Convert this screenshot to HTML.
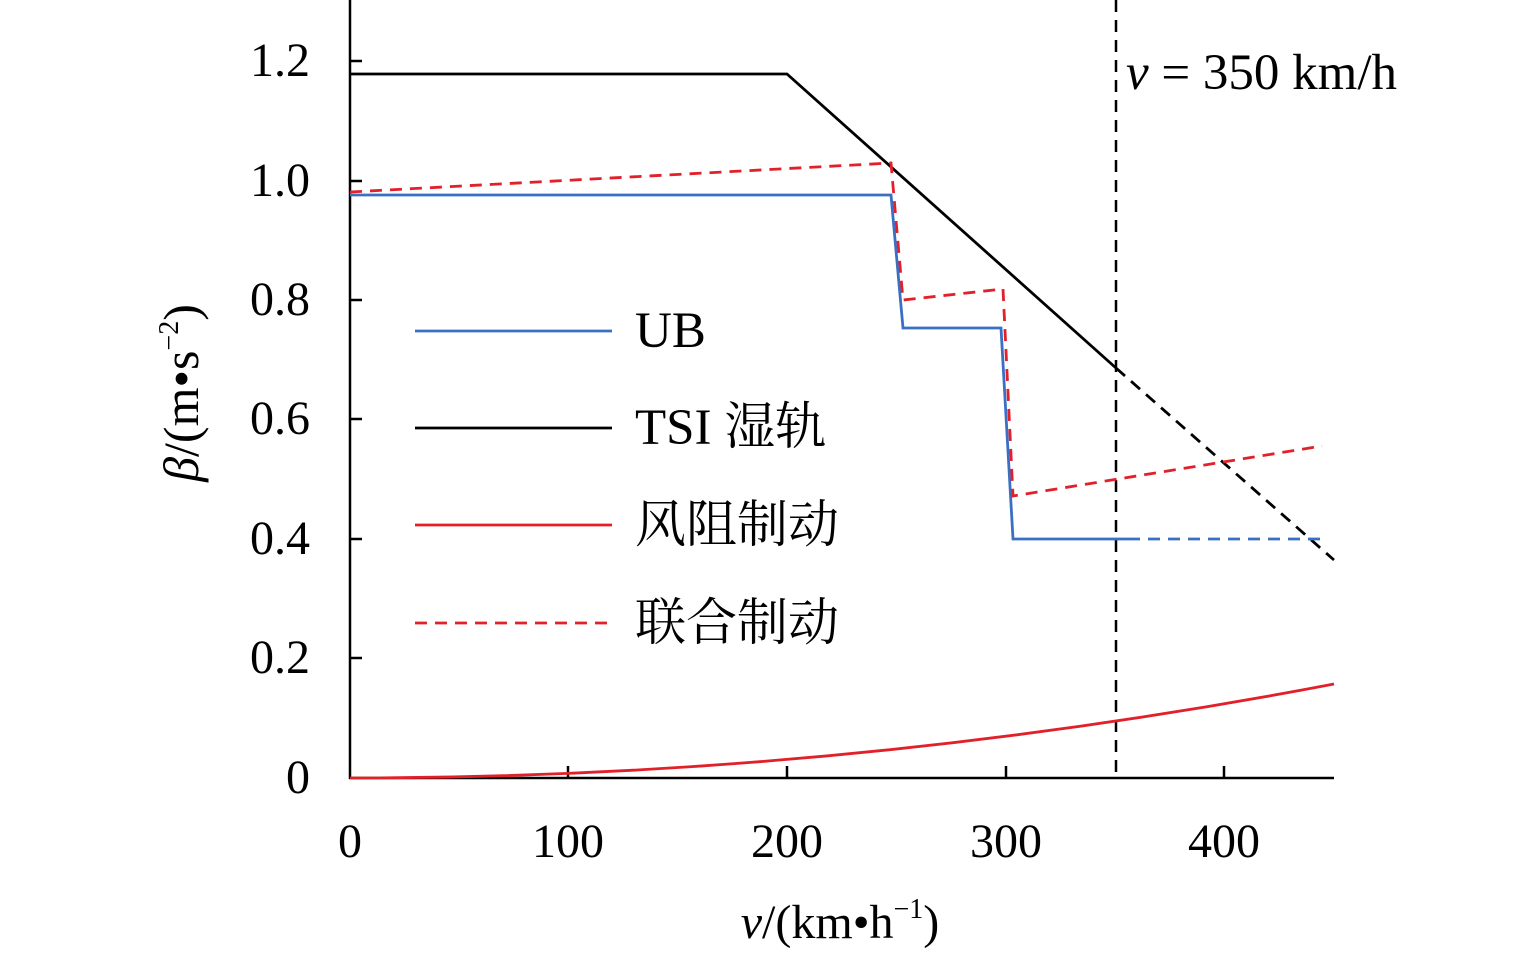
<!DOCTYPE html>
<html><head><meta charset="utf-8"><style>body{margin:0;background:#fff}</style></head><body>
<svg width="1535" height="956" viewBox="0 0 1535 956" xmlns="http://www.w3.org/2000/svg" font-family="Liberation Serif, Noto Serif CJK SC, serif">
<g stroke="#000" stroke-width="2.5" fill="none">
<line x1="350" y1="0" x2="350" y2="779"/>
<line x1="349" y1="778" x2="1334" y2="778"/>
<line x1="350" y1="658" x2="362" y2="658"/><line x1="350" y1="539" x2="362" y2="539"/>
<line x1="350" y1="419" x2="362" y2="419"/><line x1="350" y1="300" x2="362" y2="300"/>
<line x1="350" y1="181" x2="362" y2="181"/><line x1="350" y1="61" x2="362" y2="61"/>
<line x1="568" y1="778" x2="568" y2="766"/><line x1="787" y1="778" x2="787" y2="766"/>
<line x1="1006" y1="778" x2="1006" y2="766"/><line x1="1224" y1="778" x2="1224" y2="766"/>
</g>
<g font-size="48" fill="#000" text-anchor="end">
<text x="310" y="793">0</text><text x="310" y="673">0.2</text><text x="310" y="554">0.4</text>
<text x="310" y="434">0.6</text><text x="310" y="315">0.8</text><text x="310" y="196">1.0</text><text x="310" y="76">1.2</text>
</g>
<g font-size="48" fill="#000" text-anchor="middle">
<text x="350" y="857">0</text><text x="568" y="857">100</text><text x="787" y="857">200</text>
<text x="1006" y="857">300</text><text x="1224" y="857">400</text>
</g>
<text x="840" y="938" font-size="48" text-anchor="middle"><tspan font-style="italic">v</tspan>/(km•h<tspan font-size="28" dy="-20">−1</tspan><tspan dy="20">)</tspan></text>
<text transform="translate(198,393) rotate(-90)" font-size="50" text-anchor="middle"><tspan font-style="italic">β</tspan>/(m•s<tspan font-size="28" dy="-20">−2</tspan><tspan dy="20">)</tspan></text>
<text x="1126" y="89" font-size="51"><tspan font-style="italic">v</tspan> = 350 km/h</text>
<line x1="1116" y1="0" x2="1116" y2="778" stroke="#000" stroke-width="2.5" stroke-dasharray="12,8"/>
<path d="M350,778 Q842,778 1334,684" fill="none" stroke="#e2202a" stroke-width="2.8"/>
<polyline points="350,74 787,74 1116,368" fill="none" stroke="#000" stroke-width="2.8"/>
<line x1="1116" y1="368" x2="1334" y2="560" stroke="#000" stroke-width="2.8" stroke-dasharray="12,8"/>
<polyline points="350,195 891,195 903,328 1001,328 1013,539 1128,539" fill="none" stroke="#3a6fc4" stroke-width="2.8"/>
<line x1="1128" y1="539" x2="1326" y2="539" stroke="#3a6fc4" stroke-width="2.8" stroke-dasharray="12,8"/>
<polyline points="350,192 891,163 903,300 1003,289 1013,496 1322,446" fill="none" stroke="#e2202a" stroke-width="2.8" stroke-dasharray="12,8"/>
<line x1="415" y1="331" x2="612" y2="331" stroke="#3a6fc4" stroke-width="2.8"/>
<line x1="415" y1="428" x2="612" y2="428" stroke="#000" stroke-width="2.8"/>
<line x1="415" y1="525" x2="612" y2="525" stroke="#e2202a" stroke-width="2.8"/>
<line x1="415" y1="623" x2="612" y2="623" stroke="#e2202a" stroke-width="2.8" stroke-dasharray="12,8"/>
<g font-size="51" fill="#000">
<text x="635" y="347">UB</text><text x="635" y="444">TSI 湿轨</text>
<text x="635" y="542">风阻制动</text><text x="635" y="640">联合制动</text>
</g>
</svg>
</body></html>
